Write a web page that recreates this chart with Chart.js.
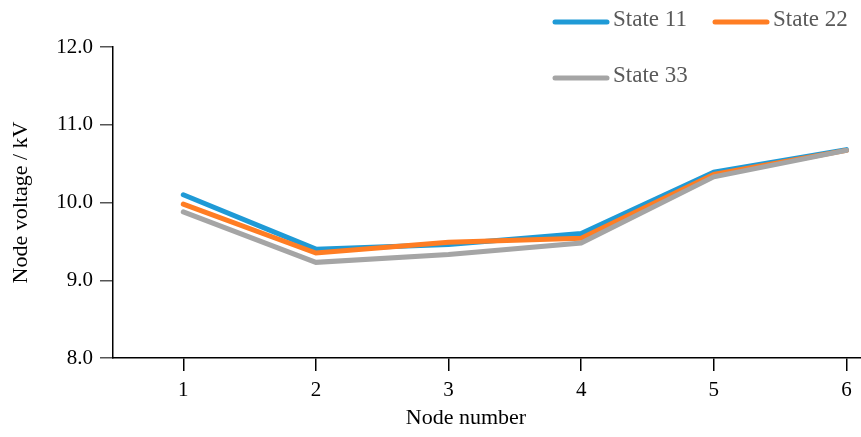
<!DOCTYPE html>
<html>
<head>
<meta charset="utf-8">
<script src="https://cdn.jsdelivr.net/npm/chart.js@4/dist/chart.umd.min.js"></script>
<style>
  html, body { margin: 0; padding: 0; background: #fff; overflow: hidden; }
</style>
</head>
<body>
<canvas id="chart__voltage" width="861" height="437"></canvas>
<script>
const nodes = [1, 2, 3, 4, 5, 6];
const state11 = [10.10, 9.40, 9.46, 9.60, 10.39, 10.68];
const state22 = [9.98, 9.35, 9.49, 9.54, 10.36, 10.67];
const state33 = [9.88, 9.23, 9.33, 9.48, 10.33, 10.67];
const yTicks = [8, 9, 10, 11, 12];

const serif = '"Liberation Serif", "Times New Roman", serif';

// legend drawn by hand: two items on the first row, one on the second
// the x title is drawn here too, it sits a bit left of the plot centre
const extrasPlugin = {
    id: 'extras',
    afterDraw(chart, args, opts) {
        const ctx = chart.ctx;
        ctx.save();
        ctx.font = '23px ' + serif;
        ctx.textBaseline = 'middle';
        chart.data.datasets.forEach((ds, i) => {
            const p = opts.items[i];
            ctx.strokeStyle = ds.borderColor;
            ctx.lineWidth = 5;
            ctx.lineCap = 'round';
            ctx.beginPath();
            ctx.moveTo(p.x, p.y + 2);
            ctx.lineTo(p.x + 52, p.y + 2);
            ctx.stroke();
            ctx.fillStyle = '#595959';
            ctx.fillText(ds.label, p.x + 58, p.y);
        });
        ctx.font = '22px ' + serif;
        ctx.fillStyle = '#000';
        ctx.textAlign = 'center';
        ctx.fillText(opts.xTitle, opts.xTitleX, opts.xTitleY);
        ctx.restore();
    }
};

function series(values) {
    return values.map((v, i) => ({ x: nodes[i], y: v }));
}

new Chart(document.getElementById('chart__voltage'), {
    type: 'line',
    data: {
        datasets: [
            { label: 'State 11', data: series(state11), borderColor: '#1f9ad6', order: 3 },
            { label: 'State 22', data: series(state22), borderColor: '#ff7d23', order: 2 },
            { label: 'State 33', data: series(state33), borderColor: '#a5a5a5', order: 1 }
        ]
    },
    options: {
        responsive: false,
        devicePixelRatio: 1,
        animation: false,
        layout: { padding: { top: 47, left: 0, right: 0, bottom: 0 } },
        elements: {
            line: { borderWidth: 5, borderCapStyle: 'round', borderJoinStyle: 'miter', tension: 0 },
            point: { radius: 0 }
        },
        plugins: {
            legend: { display: false },
            tooltip: { enabled: false },
            extras: {
                items: [{ x: 555, y: 20 }, { x: 715, y: 20 }, { x: 555, y: 76 }],
                xTitle: 'Node number',
                xTitleX: 466,
                xTitleY: 418
            }
        },
        scales: {
            x: {
                type: 'linear',
                min: 0.47,
                max: 6.11,
                afterBuildTicks: scale => { scale.ticks = nodes.map(v => ({ value: v })); },
                afterFit: scale => { scale.height = 79; },
                border: { color: '#000', width: 1.5 },
                grid: { drawOnChartArea: false, drawTicks: true, tickLength: 13, tickColor: '#000', lineWidth: 1.5 },
                ticks: {
                    color: '#000',
                    padding: 7,
                    maxRotation: 0,
                    font: { family: serif, size: 21 },
                    callback: v => String(v)
                },
                title: { display: false }
            },
            y: {
                min: 8,
                max: 12,
                afterBuildTicks: scale => { scale.ticks = yTicks.map(v => ({ value: v })); },
                afterFit: scale => { scale.width = 113; },
                border: { color: '#000', width: 1.5 },
                grid: { drawOnChartArea: false, drawTicks: true, tickLength: 13, tickColor: '#555', lineWidth: 1.5 },
                ticks: {
                    color: '#000',
                    padding: 7,
                    font: { family: serif, size: 21 },
                    callback: v => v.toFixed(1)
                },
                title: {
                    display: true,
                    text: 'Node voltage / kV',
                    color: '#000',
                    font: { family: serif, size: 22 },
                    padding: { top: 8, bottom: 0 }
                }
            }
        }
    },
    plugins: [extrasPlugin]
});
</script>
</body>
</html>
